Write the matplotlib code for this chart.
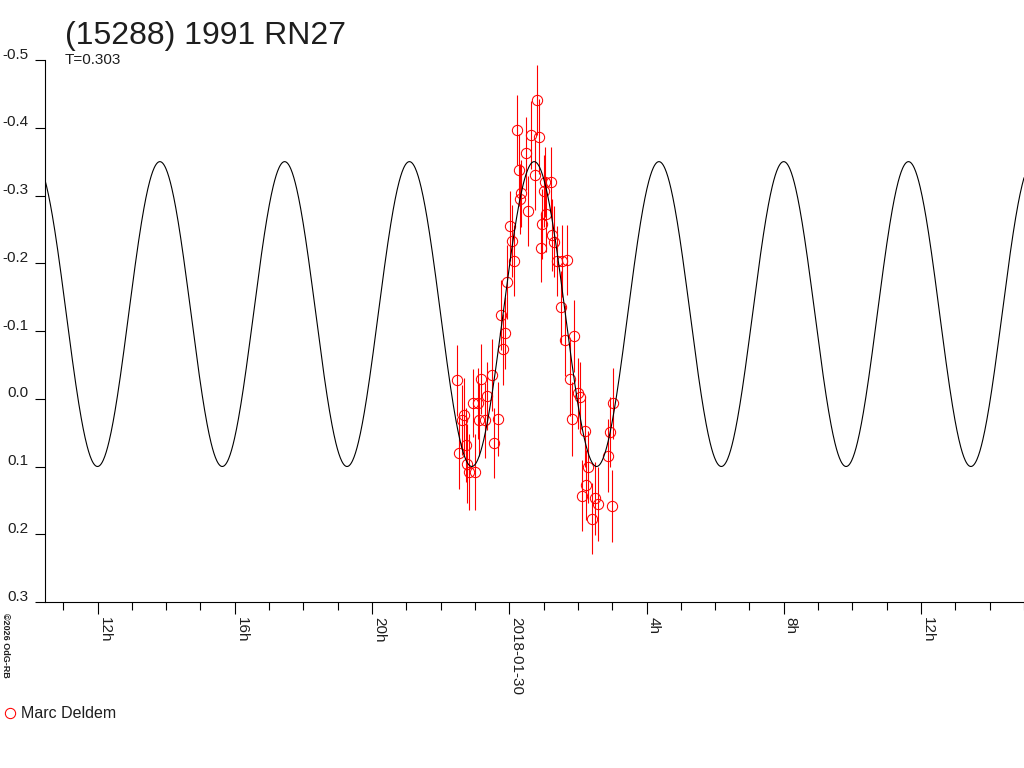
import numpy as np
import matplotlib
matplotlib.use("Agg")
import matplotlib.pyplot as plt
from matplotlib.ticker import FixedLocator, FuncFormatter, MultipleLocator
from matplotlib.transforms import ScaledTranslation

plt.rcParams["font.family"] = ["Liberation Sans", "DejaVu Sans"]

# ---- data : hours since 2018-01-29 00:00 UT, relative magnitude, error ----
TIME_H = [
    22.48, 22.53, 22.67, 22.63, 22.74, 22.77, 22.84, 23.00, 22.93, 23.09,
    23.18, 23.13, 23.29, 23.35, 23.49, 23.55, 23.66, 23.75, 23.87, 23.82,
    23.92, 24.01, 24.07, 24.13, 24.23, 24.28, 24.34, 24.31, 24.48, 24.54,
    24.63, 24.74, 24.81, 24.86, 24.94, 24.91, 25.01, 25.04, 25.21, 25.07,
    25.25, 25.31, 25.40, 25.54, 25.69, 25.52, 25.62, 25.88, 25.76, 25.99,
    26.07, 25.83, 26.20, 26.30, 26.25, 26.13, 26.49, 26.60, 26.40, 26.98,
    26.88, 26.93, 27.02,
]
MAG = [
    -0.027, 0.080, 0.024, 0.031, 0.068, 0.096, 0.108, 0.108, 0.006, 0.007,
    -0.029, 0.031, 0.032, -0.004, -0.035, 0.065, 0.030, -0.124, -0.097, -0.073,
    -0.172, -0.255, -0.233, -0.204, -0.397, -0.338, -0.303, -0.295, -0.362, -0.277,
    -0.389, -0.330, -0.441, -0.387, -0.258, -0.223, -0.307, -0.320, -0.320, -0.272,
    -0.242, -0.232, -0.203, -0.203, -0.205, -0.135, -0.086, -0.093, -0.029, -0.008,
    -0.002, 0.030, 0.048, 0.101, 0.127, 0.143, 0.147, 0.155, 0.177, 0.158,
    0.084, 0.049, 0.007,
]
ERR = [
    0.052, 0.053, 0.055, 0.052, 0.055, 0.058, 0.056, 0.056, 0.050, 0.052,
    0.052, 0.054, 0.055, 0.050, 0.053, 0.052, 0.054, 0.052, 0.053, 0.052,
    0.055, 0.052, 0.053, 0.052, 0.052, 0.053, 0.050, 0.052, 0.054, 0.052,
    0.050, 0.052, 0.052, 0.055, 0.052, 0.050, 0.053, 0.052, 0.052, 0.055,
    0.053, 0.052, 0.052, 0.053, 0.052, 0.054, 0.052, 0.053, 0.055, 0.052,
    0.052, 0.055, 0.052, 0.053, 0.052, 0.052, 0.054, 0.055, 0.052, 0.053,
    0.054, 0.052, 0.052,
]

# fitted model (2nd harmonic) : period in days, mean, half amplitude, epoch of minimum (h)
PERIOD_D = 0.303
MODEL_MEAN = -0.125
MODEL_AMP = 0.225
MODEL_EPOCH_H = 12.0

OBSERVER = "Marc Deldem"
TITLE = "(15288) 1991 RN27"
SUBTITLE = "T=0.303"
DATE_LABEL = "2018-01-30"
YTICKS = [-0.5, -0.4, -0.3, -0.2, -0.1, 0.0, 0.1, 0.2, 0.3]
XLIM = (10.47, 39.0)

TXT = "#1e1e1e"

# ---- figure ----
W, H = 1024, 768
fig = plt.figure(figsize=(W / 100, H / 100), dpi=100)
fig.patch.set_facecolor("white")
ax = fig.add_axes([45 / W, 166 / H, (W - 45) / W, 542 / H])

t_model = np.linspace(XLIM[0], XLIM[1], 2000)
p_h = PERIOD_D * 24.0
m_model = MODEL_MEAN + MODEL_AMP * np.cos(4 * np.pi * (t_model - MODEL_EPOCH_H) / p_h)

ax.errorbar(TIME_H, MAG, yerr=ERR, fmt="none", ecolor="#ff0000",
            elinewidth=0.8, capsize=0, zorder=2)
ax.plot(TIME_H, MAG, "o", ms=7.4, mfc="none", mec="#ff0000", mew=0.75, zorder=3)
ax.plot(t_model, m_model, color="black", lw=0.8, zorder=4)

ax.set_xlim(*XLIM)
ax.set_ylim(0.3, -0.5)

for s in ("top", "right"):
    ax.spines[s].set_visible(False)
for s in ("left", "bottom"):
    ax.spines[s].set_linewidth(0.8)
    ax.spines[s].set_color("black")

# y axis
ax.yaxis.set_major_locator(FixedLocator(YTICKS))
ax.yaxis.set_major_formatter(FuncFormatter(lambda v, p: f"{abs(v):.1f}" if abs(v) < 1e-9 else f"{v:.1f}"))
ax.tick_params(axis="y", direction="out", length=7.2, width=0.8, pad=5,
               labelsize=11, labelcolor=TXT)

# x axis : major every 4 h, minor every hour
def xfmt(v, pos):
    h = int(round(v)) % 24
    return DATE_LABEL if h == 0 else f"{h}h"

ax.xaxis.set_major_locator(MultipleLocator(4))
ax.xaxis.set_minor_locator(MultipleLocator(1))
ax.xaxis.set_major_formatter(FuncFormatter(xfmt))
ax.tick_params(axis="x", which="major", direction="out", length=8.6, width=0.8,
               pad=2, labelsize=11, labelrotation=270, labelcolor=TXT)
ax.tick_params(axis="x", which="minor", direction="out", length=5.8, width=0.8)

fig.canvas.draw()
up = ScaledTranslation(0, 5 / 72, fig.dpi_scale_trans)
for lab in ax.get_yticklabels():
    lab.set_transform(lab.get_transform() + up)
for lab in ax.get_xticklabels():
    lab.set_horizontalalignment("left")
    lab.set_verticalalignment("top")

# texts
fig.text(65 / W, 1 - 44 / H, TITLE, fontsize=23, color=TXT, va="baseline")
fig.text(65 / W, 1 - 64 / H, SUBTITLE, fontsize=11, color=TXT, va="baseline")
fig.text(5 / W, 1 - 613 / H, "\u00a92026 OdG-RB", fontsize=6.5, fontweight="bold",
         rotation=270, ha="center", va="top", color=TXT)

# legend
fig.lines.append(plt.Line2D([10 / W], [1 - 713 / H], marker="o", ms=7.4, mfc="none",
                            mec="#ff0000", mew=0.75, transform=fig.transFigure))
fig.text(21 / W, 1 - 713 / H, OBSERVER, fontsize=11.5, va="center", color=TXT)

fig.savefig("out.png", dpi=100)
